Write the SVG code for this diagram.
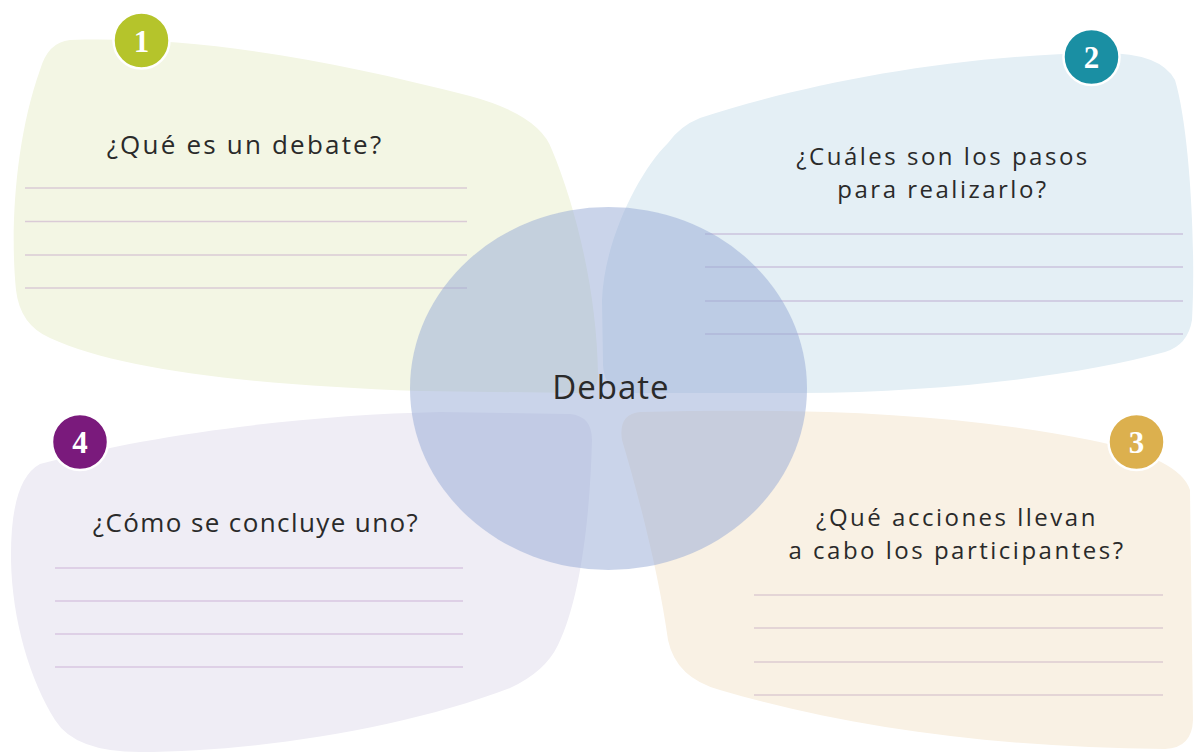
<svg xmlns="http://www.w3.org/2000/svg" width="1195" height="755" viewBox="0 0 1195 755">
<style>
.q{font-family:"Open Sans","Noto Sans",sans-serif;font-size:26px;fill:#2a2a2a;text-anchor:middle;letter-spacing:1.4px}
.q2{font-family:"Open Sans","Noto Sans",sans-serif;font-size:24px;fill:#2a2a2a;text-anchor:middle;letter-spacing:2.5px}
.c{font-family:"Open Sans","Noto Sans",sans-serif;font-size:33px;fill:#2a2a2a;text-anchor:middle;letter-spacing:1px}
.ln{stroke-width:1.6;fill:none}
.bd{stroke:#ffffff;stroke-width:2.5}
.bn{font-family:"Liberation Serif",serif;font-weight:bold;font-size:31px;fill:#ffffff;text-anchor:middle}
</style>
<rect width="1195" height="755" fill="#ffffff"/>
<g id="q1">
<path d="M70,40 C200,36 330,60 470,96 Q540,115 552,150 C575,205 597,290 598,375 Q598,393 580,393 L420,391 C250,385 120,370 50,338 Q20,325 16,290 C10,230 15,140 40,70 Q48,42 70,40 Z" fill="#f3f6e4"/>
<g class="ln" stroke="#dacbd6"><line x1="25" y1="188" x2="467" y2="188"/><line x1="25" y1="221.5" x2="467" y2="221.5"/><line x1="25" y1="255" x2="467" y2="255"/><line x1="25" y1="288" x2="467" y2="288"/></g>
<text class="q" x="245" y="154" style="letter-spacing:2.2px">¿Qué es un debate?</text>
</g>
<g id="q2">
<path d="M700,118 C800,85 950,55 1100,53 Q1160,52 1175,80 C1190,130 1196,250 1192,320 Q1188,345 1165,352 C1080,375 950,392 800,393 L630,393 Q604,392 603,365 L602,300 C604,240 640,170 668,143 Q680,126 700,118 Z" fill="#e4eff5"/>
<g class="ln" stroke="#cbc3dc"><line x1="705" y1="234" x2="1183" y2="234"/><line x1="705" y1="267" x2="1183" y2="267"/><line x1="705" y1="301" x2="1183" y2="301"/><line x1="705" y1="334" x2="1183" y2="334"/></g>
<text class="q2" x="943" y="165">¿Cuáles son los pasos</text>
<text class="q2" x="943" y="198">para realizarlo?</text>
</g>
<g id="q3">
<path d="M640,412 C800,408 950,412 1090,440 Q1180,458 1190,490 L1193,720 Q1192,748 1165,749 C1000,748 850,728 720,690 Q676,678 668,640 C660,580 640,500 622,440 Q618,414 640,412 Z" fill="#f9f1e4"/>
<g class="ln" stroke="#dccbd2"><line x1="754" y1="595" x2="1163" y2="595"/><line x1="754" y1="628" x2="1163" y2="628"/><line x1="754" y1="662" x2="1163" y2="662"/><line x1="754" y1="695" x2="1163" y2="695"/></g>
<text class="q2" x="957" y="526">¿Qué acciones llevan</text>
<text class="q2" x="957" y="559">a cabo los participantes?</text>
</g>
<g id="q4">
<path d="M40,464 C150,435 300,415 440,412 L570,414 Q592,416 592,440 C590,520 580,600 558,645 Q545,672 510,688 C400,730 250,752 140,752 Q75,752 55,720 C30,680 12,620 11,560 Q10,480 40,464 Z" fill="#efedf5"/>
<g class="ln" stroke="#d8c6e0"><line x1="55" y1="568" x2="463" y2="568"/><line x1="55" y1="601" x2="463" y2="601"/><line x1="55" y1="634" x2="463" y2="634"/><line x1="55" y1="667" x2="463" y2="667"/></g>
<text class="q" x="256" y="532">¿Cómo se concluye uno?</text>
</g>
<g id="center">
<ellipse cx="608.5" cy="388.5" rx="198.5" ry="181.5" fill="#95a9d5" fill-opacity="0.5"/>
<text class="c" x="611" y="399">Debate</text>
</g>
<g id="badges">
<g id="b1"><circle class="bd" cx="141.5" cy="40.5" r="28" fill="#b5c42b"/><text class="bn" x="141.5" y="51.5">1</text></g>
<g id="b2"><circle class="bd" cx="1091.5" cy="57" r="28" fill="#1a8fa3"/><text class="bn" x="1091.5" y="68">2</text></g>
<g id="b3"><circle class="bd" cx="1136.5" cy="442" r="28" fill="#dcb04e"/><text class="bn" x="1136.5" y="453">3</text></g>
<g id="b4"><circle class="bd" cx="80" cy="442" r="28" fill="#7a1a7c"/><text class="bn" x="80" y="453">4</text></g>
</g>
<g id="connectors"/>
</svg>
